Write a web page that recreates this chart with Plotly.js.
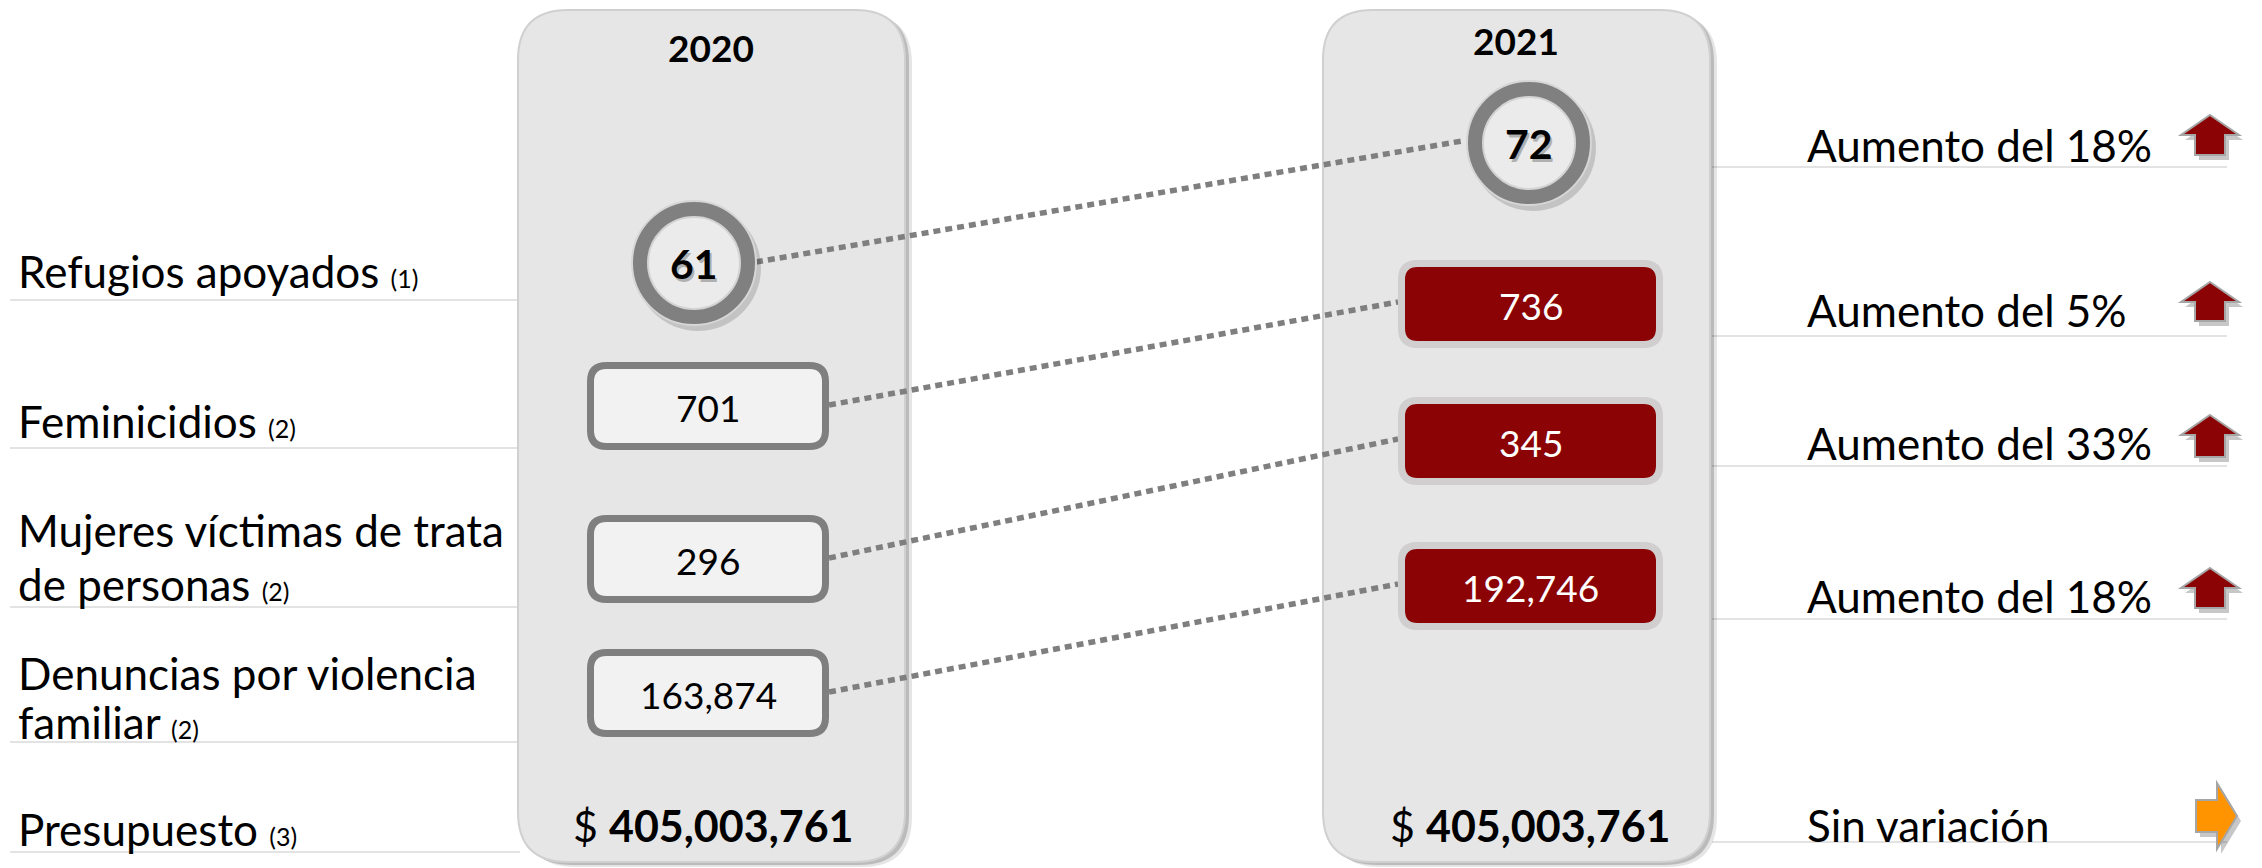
<!DOCTYPE html>
<html>
<head>
<meta charset="utf-8">
<script src="https://cdn.plot.ly/plotly-3.0.1.min.js"></script>
<style>html,body{margin:0;padding:0;background:#fff;}#chart{width:2262px;height:868px;}</style>
</head>
<body>
<div id="chart"></div>
<script>
// ---- Data ----
const categories = ["Refugios apoyados", "Feminicidios", "Mujeres víctimas de trata<br>de personas", "Denuncias por violencia<br>familiar", "Presupuesto"];
const notes = ["(1)", "(2)", "(2)", "(2)", "(3)"];
const years = ["2020", "2021"];
const values2020 = [61, 701, 296, 163874];
const values2021 = [72, 736, 345, 192746];
const budget = [405003761, 405003761];
const variation = ["Aumento del 18%", "Aumento del 5%", "Aumento del 33%", "Aumento del 18%", "Sin variación"];
const direction = ["up", "up", "up", "up", "flat"];

// ---- Layout constants (pixels) ----
const W = 2262, H = 868;
const FONT = "Lato, 'Open Sans', sans-serif";
const panels = [{x0: 518, x1: 905, cx: 711, titleY: 47}, {x0: 1323, x1: 1710, cx: 1516, titleY: 40}];
const rowY2020 = [263, 406, 559, 693];
const rowY2021 = [143, 304, 441, 586];
const circleX = [694, 1529];
const boxX2020 = [587, 829];
const boxX2021 = [1398, 1663];
const boxH = 88;
const leftLabelLines = [[271], [421], [530, 584], [673, 722], [829]];
const leftSepY = [300, 448, 607, 742, 852];
const rightLabelY = [145, 310, 443, 596, 825];
const rightSepY = [167, 336, 466, 619, 842];
const arrowY = [[115, 155], [282, 321], [415, 457], [568, 608]];
const ARROW_CX = 2210;
const R_OUT = 62, R_IN = 46;

const fmt = v => v.toLocaleString('en-US');

function rr(x0, y0, x1, y1, r) {
  return `M${x0 + r},${y0} L${x1 - r},${y0} Q${x1},${y0} ${x1},${y0 + r} L${x1},${y1 - r} Q${x1},${y1} ${x1 - r},${y1} L${x0 + r},${y1} Q${x0},${y1} ${x0},${y1 - r} L${x0},${y0 + r} Q${x0},${y0} ${x0 + r},${y0} Z`;
}

const shapes = [];
const annotations = [];

// separators
leftSepY.forEach(y => shapes.push({type: 'line', xref: 'x', yref: 'y', x0: 10, x1: 520, y0: y, y1: y, line: {color: '#e3e3e3', width: 2}, layer: 'below'}));
rightSepY.forEach(y => shapes.push({type: 'line', xref: 'x', yref: 'y', x0: 1712, x1: 2227, y0: y, y1: y, line: {color: '#e3e3e3', width: 2}, layer: 'below'}));

// panels
panels.forEach(p => {
  shapes.push({type: 'path', xref: 'x', yref: 'y', path: rr(p.x0 + 7, 14, p.x1 + 7, 867, 50), fillcolor: 'rgba(0,0,0,0.10)', line: {width: 0}, layer: 'below'});
  shapes.push({type: 'path', xref: 'x', yref: 'y', path: rr(p.x0 + 4, 12, p.x1 + 4, 865, 50), fillcolor: 'rgba(0,0,0,0.18)', line: {width: 0}, layer: 'below'});
  shapes.push({type: 'path', xref: 'x', yref: 'y', path: rr(p.x0, 10, p.x1, 862, 50), fillcolor: '#e6e6e6', line: {color: '#d0d0d0', width: 2}, layer: 'below'});
});

// year titles
years.forEach((yr, i) => annotations.push({x: panels[i].cx, y: panels[i].titleY, xref: 'x', yref: 'y', text: '<b>' + yr + '</b>', showarrow: false, font: {family: FONT, size: 37, color: '#000'}, xanchor: 'center', yanchor: 'middle'}));

// circles (first row)
function ring(cx, cy, val) {
  shapes.push({type: 'circle', xref: 'x', yref: 'y', x0: cx - R_OUT + 3, x1: cx + R_OUT + 5, y0: cy - R_OUT + 4, y1: cy + R_OUT + 6, fillcolor: 'rgba(0,0,0,0.15)', line: {width: 0}});
  shapes.push({type: 'circle', xref: 'x', yref: 'y', x0: cx - R_OUT, x1: cx + R_OUT, y0: cy - R_OUT, y1: cy + R_OUT, fillcolor: '#808080', line: {color: '#d6d6d6', width: 2}});
  shapes.push({type: 'circle', xref: 'x', yref: 'y', x0: cx - R_IN, x1: cx + R_IN, y0: cy - R_IN, y1: cy + R_IN, fillcolor: '#ebebeb', line: {color: '#d3d3d3', width: 2}});
  annotations.push({x: cx + 2, y: cy + 3, xref: 'x', yref: 'y', text: '<b>' + fmt(val) + '</b>', showarrow: false, font: {family: FONT, size: 41, color: 'rgba(0,0,0,0.25)'}, xanchor: 'center', yanchor: 'middle'});
  annotations.push({x: cx, y: cy, xref: 'x', yref: 'y', text: '<b>' + fmt(val) + '</b>', showarrow: false, font: {family: FONT, size: 41, color: '#000'}, xanchor: 'center', yanchor: 'middle'});
}
ring(circleX[0], rowY2020[0], values2020[0]);
ring(circleX[1], rowY2021[0], values2021[0]);

// boxes
for (let i = 1; i < values2020.length; i++) {
  const y = rowY2020[i];
  shapes.push({type: 'path', xref: 'x', yref: 'y', path: rr(boxX2020[0] + 3.5, y - boxH / 2 + 3.5, boxX2020[1] - 3.5, y + boxH / 2 - 3.5, 16), fillcolor: '#f2f2f2', line: {color: '#7f7f7f', width: 7}});
  annotations.push({x: (boxX2020[0] + boxX2020[1]) / 2, y: y + 1, xref: 'x', yref: 'y', text: fmt(values2020[i]), showarrow: false, font: {family: FONT, size: 37, color: '#000'}, xanchor: 'center', yanchor: 'middle'});
  const y2 = rowY2021[i];
  shapes.push({type: 'path', xref: 'x', yref: 'y', path: rr(boxX2021[0] + 3.5, y2 - boxH / 2 + 3.5, boxX2021[1] - 3.5, y2 + boxH / 2 - 3.5, 16), fillcolor: '#8b0304', line: {color: '#d0cece', width: 7}});
  annotations.push({x: (boxX2021[0] + boxX2021[1]) / 2, y: y2 + 1, xref: 'x', yref: 'y', text: fmt(values2021[i]), showarrow: false, font: {family: FONT, size: 37, color: '#fff'}, xanchor: 'center', yanchor: 'middle'});
}

// budget
budget.forEach((b, i) => annotations.push({x: i === 0 ? 713 : 1530, y: 825, xref: 'x', yref: 'y', text: '$ <b>' + fmt(b) + '</b>', showarrow: false, font: {family: FONT, size: 43, color: '#000'}, xanchor: 'center', yanchor: 'middle'}));

// left labels (one annotation per line)
categories.forEach((c, i) => {
  const lines = c.split('<br>');
  lines.forEach((ln, j) => {
    const txt = (j === lines.length - 1) ? ln + ' <span style="font-size:25px">' + notes[i] + '</span>' : ln;
    annotations.push({x: 16, y: leftLabelLines[i][j], xref: 'x', yref: 'y', text: txt, showarrow: false, font: {family: FONT, size: 44, color: '#000'}, xanchor: 'left', yanchor: 'middle', align: 'left'});
  });
});

// right labels
variation.forEach((v, i) => annotations.push({x: 1805, y: rightLabelY[i], xref: 'x', yref: 'y', text: v, showarrow: false, font: {family: FONT, size: 44, color: '#000'}, xanchor: 'left', yanchor: 'middle', align: 'left'}));

// arrows
function upArrow(cx, yt, yb, dx, dy) {
  const hw = 29, sw = 15, hh = 20;
  return `M${cx + dx},${yt + dy} L${cx + hw + dx},${yt + hh + dy} L${cx + sw + dx},${yt + hh + dy} L${cx + sw + dx},${yb + dy} L${cx - sw + dx},${yb + dy} L${cx - sw + dx},${yt + hh + dy} L${cx - hw + dx},${yt + hh + dy} Z`;
}
direction.forEach((d, i) => {
  if (d === 'up') {
    const [yt, yb] = arrowY[i];
    shapes.push({type: 'path', xref: 'x', yref: 'y', path: upArrow(ARROW_CX, yt, yb, 4, 5), fillcolor: 'rgba(0,0,0,0.22)', line: {width: 0}});
    shapes.push({type: 'path', xref: 'x', yref: 'y', path: upArrow(ARROW_CX, yt, yb, 0, 0), fillcolor: '#8b0304', line: {color: '#a6a6a6', width: 2}});
  } else {
    const p = (dx, dy) => `M${2196 + dx},${800 + dy} L${2217 + dx},${800 + dy} L${2217 + dx},${783 + dy} L${2237 + dx},${816 + dy} L${2217 + dx},${849 + dy} L${2217 + dx},${832 + dy} L${2196 + dx},${832 + dy} Z`;
    shapes.push({type: 'path', xref: 'x', yref: 'y', path: p(4, 5), fillcolor: 'rgba(0,0,0,0.22)', line: {width: 0}});
    shapes.push({type: 'path', xref: 'x', yref: 'y', path: p(0, 0), fillcolor: '#ff9400', line: {color: '#a6a6a6', width: 2}});
  }
});

// connecting dotted lines
const traces = [];
for (let i = 0; i < values2020.length; i++) {
  const xs = i === 0 ? [circleX[0] + R_OUT, circleX[1] - R_OUT - 5] : [boxX2020[1], boxX2021[0]];
  traces.push({type: 'scatter', mode: 'lines', x: xs, y: [rowY2020[i] - 1, rowY2021[i] - 2], line: {color: '#7f7f7f', width: 5.5, dash: '7px,5px'}, hoverinfo: 'skip', showlegend: false});
}

const layout = {
  width: W, height: H,
  margin: {l: 0, r: 0, t: 0, b: 0},
  paper_bgcolor: '#fff', plot_bgcolor: '#fff',
  xaxis: {range: [0, W], visible: false, fixedrange: true},
  yaxis: {range: [H, 0], visible: false, fixedrange: true},
  showlegend: false,
  shapes: shapes,
  annotations: annotations
};
Plotly.newPlot('chart', traces, layout, {staticPlot: true, displayModeBar: false});
</script>
</body>
</html>
